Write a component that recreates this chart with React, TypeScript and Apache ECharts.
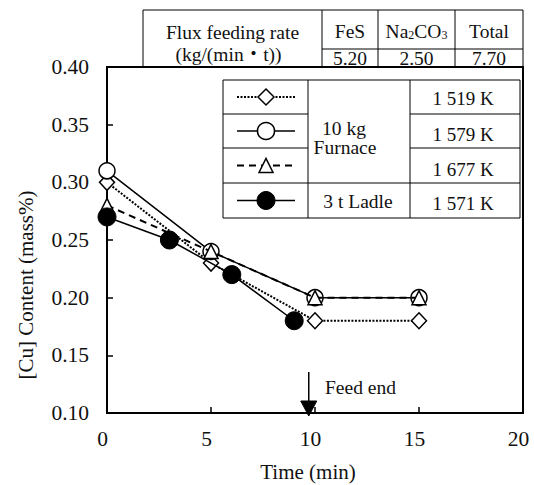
import React, { useEffect, useRef } from "react";
import * as echarts from "echarts";

// ---- data ----
const furnace1519 = [[0, 0.30], [5, 0.23], [10, 0.18], [15, 0.18]];
const furnace1579 = [[0, 0.31], [5, 0.24], [10, 0.20], [15, 0.20]];
const furnace1677 = [[0, 0.28], [5, 0.24], [10, 0.20], [15, 0.20]];
const ladle1571 = [[0, 0.27], [3, 0.25], [6, 0.22], [9, 0.18]];
const legendTemps = ["1 519 K", "1 579 K", "1 677 K", "1 571 K"];
const fluxValues = ["5.20", "2.50", "7.70"];
const xMin = 0, xMax = 20, xInterval = 5;
const yMin = 0.10, yMax = 0.40, yInterval = 0.05;
const feedEndTime = 9.7;

const F = "Liberation Serif, Times New Roman, Noto Sans CJK JP, serif";
const GL = 107, GR = 11, GT = 67, GB = 72;
const W = 534, H = 485;
const GW = W - GL - GR;
const px = (t: number) => GL + ((t - xMin) / (xMax - xMin)) * GW;

const ln = (x1: number, y1: number, x2: number, y2: number, w = 1, dash?: number[]) => ({
  type: "line",
  silent: true,
  shape: { x1, y1, x2, y2 },
  style: { stroke: "#000", lineWidth: w, lineDash: dash },
  z: 100,
});
const txt = (x: number, y: number, text: string, size = 19, align = "center", extra: any = {}) => ({
  type: "text",
  silent: true,
  x,
  y,
  style: { text, fill: "#111", fontFamily: F, fontSize: size, align, verticalAlign: "middle", ...extra },
  z: 101,
});

export default function App() {
  const ref = useRef<HTMLDivElement>(null);
  useEffect(() => {
    if (!ref.current) return;
    const chart = echarts.init(ref.current, null, { renderer: "svg" });

    // top table
    const tL = 143, c1 = 322, c2 = 378, c3 = 455, tR = 523, tT = 10, tM = 49, tB = GT;
    // legend table
    const lL = 223, lc1 = 308, lc2 = 410, lR = 520;
    const rows = [80, 114, 148, 183, 218];
    const rc = (i: number) => (rows[i] + rows[i + 1]) / 2;
    const sx1 = 237, sx2 = 295, sxc = 266;

    const arrowX = px(feedEndTime);
    const graphic: any[] = [
      // top table
      ln(tL, tT, tR, tT), ln(tL, tT, tL, tB), ln(c1, tT, c1, tB), ln(c2, tT, c2, tB), ln(c3, tT, c3, tB), ln(tR, tT, tR, tB),
      ln(c1, tM, tR, tM),
      txt((tL + c1) / 2, 32, "Flux feeding rate", 19.5),
      txt((tL + c1) / 2 - 4, 54, "(kg/(min・t))", 19.5),
      txt((c1 + c2) / 2, 31, "FeS", 19.5),
      {
        type: "text", silent: true, x: (c2 + c3) / 2, y: 31, z: 101,
        style: {
          text: "Na{s|2}CO{s|3}", fill: "#111", fontFamily: F, fontSize: 19.5, align: "center", verticalAlign: "middle",
          rich: { s: { fontSize: 12, fontFamily: F, verticalAlign: "bottom", fill: "#111" } },
        },
      },
      txt((c3 + tR) / 2, 31, "Total", 19.5),
      txt((c1 + c2) / 2, 58, fluxValues[0], 19.5),
      txt((c2 + c3) / 2, 58, fluxValues[1], 19.5),
      txt((c3 + tR) / 2, 58, fluxValues[2], 19.5),

      // legend table
      { type: "rect", silent: true, shape: { x: lL, y: rows[0], width: lR - lL, height: rows[4] - rows[0] }, style: { fill: "#fff", stroke: "#000", lineWidth: 1 }, z: 99 },
      ln(lc1, rows[0], lc1, rows[4]), ln(lc2, rows[0], lc2, rows[4]),
      ln(lL, rows[1], lc1, rows[1]), ln(lL, rows[2], lc1, rows[2]), ln(lL, rows[3], lR, rows[3]),
      ln(lc2, rows[1], lR, rows[1]), ln(lc2, rows[2], lR, rows[2]),
      txt(344, 128, "10 kg", 19.5),
      txt(345, 147, "Furnace", 19.5),
      txt(358, 201, "3 t Ladle", 19.5),
      txt(463, 98, legendTemps[0], 19),
      txt(463, 134, legendTemps[1], 19),
      txt(463, 169, legendTemps[2], 19),
      txt(463, 203, legendTemps[3], 19),
      // legend symbols
      ln(sx1, rc(0), sx2, rc(0), 2, [2, 1.5]),
      { type: "polygon", silent: true, z: 102, shape: { points: [[sxc - 8, rc(0)], [sxc, rc(0) - 8], [sxc + 8, rc(0)], [sxc, rc(0) + 8]] }, style: { fill: "#fff", stroke: "#000", lineWidth: 1.5 } },
      ln(sx1, rc(1), sx2, rc(1), 1.5),
      { type: "circle", silent: true, z: 102, shape: { cx: sxc, cy: rc(1), r: 8.5 }, style: { fill: "#fff", stroke: "#000", lineWidth: 1.5 } },
      ln(sx1, rc(2), sx2, rc(2), 2, [7, 5]),
      { type: "polygon", silent: true, z: 102, shape: { points: [[sxc - 7, rc(2) + 7], [sxc, rc(2) - 7], [sxc + 7, rc(2) + 7]] }, style: { fill: "#fff", stroke: "#000", lineWidth: 1.5 } },
      ln(sx1, rc(3), sx2, rc(3), 1.5),
      { type: "circle", silent: true, z: 102, shape: { cx: sxc, cy: rc(3), r: 9 }, style: { fill: "#000", stroke: "#000", lineWidth: 1 } },

      // axis titles
      { ...txt(26, 285, "[Cu] Content (mass%)", 21), rotation: Math.PI / 2 },
      txt(308, 472, "Time (min)", 21),

      // feed end arrow
      ln(arrowX, 372, arrowX, 402, 1.5),
      { type: "polygon", silent: true, z: 102, shape: { points: [[arrowX - 8, 401], [arrowX + 8, 401], [arrowX, 416]] }, style: { fill: "#000", stroke: "#000", lineWidth: 1 } },
      txt(325, 387, "Feed end", 19.5, "left"),
    ];

    const hollow = { color: "#fff", borderColor: "#000", borderWidth: 1.5 };
    chart.setOption({
      animation: false,
      backgroundColor: "#fff",
      grid: { left: GL, right: GR, top: GT, bottom: GB, show: true, borderColor: "#000", borderWidth: 2, backgroundColor: "transparent" },
      xAxis: {
        type: "value", min: xMin, max: xMax, interval: xInterval,
        axisLine: { show: true, lineStyle: { color: "#000", width: 2 } },
        axisTick: { show: true, inside: true, length: 6, lineStyle: { color: "#000", width: 1.5 } },
        splitLine: { show: false },
        axisLabel: { color: "#111", fontFamily: F, fontSize: 21.5, margin: 15, padding: [0, 9, 0, 0] },
      },
      yAxis: {
        type: "value", min: yMin, max: yMax, interval: yInterval,
        axisLine: { show: true, lineStyle: { color: "#000", width: 2 } },
        axisTick: { show: true, inside: true, length: 6, lineStyle: { color: "#000", width: 1.5 } },
        splitLine: { show: false },
        axisLabel: { color: "#111", fontFamily: F, fontSize: 21.5, margin: 18, padding: [0, 0, 3, 0], formatter: (v: number) => v.toFixed(2) },
      },
      series: [
        {
          type: "line", name: legendTemps[0], data: furnace1519, symbol: "diamond", symbolSize: [15, 16],
          itemStyle: hollow, lineStyle: { color: "#000", width: 2, type: [2, 1.5] }, z: 3,
        },
        {
          type: "line", name: legendTemps[1], data: furnace1579, symbol: "circle", symbolSize: 16,
          itemStyle: hollow, lineStyle: { color: "#000", width: 1.5 }, z: 4,
        },
        {
          type: "line", name: legendTemps[2], data: furnace1677, symbol: "triangle", symbolSize: [14, 14],
          itemStyle: hollow, lineStyle: { color: "#000", width: 2, type: [7, 5] }, z: 5,
        },
        {
          type: "line", name: legendTemps[3], data: ladle1571, symbol: "circle", symbolSize: 18,
          itemStyle: { color: "#000", borderColor: "#000", borderWidth: 1 }, lineStyle: { color: "#000", width: 1.5 }, z: 6,
        },
      ],
      graphic,
    });
    return () => chart.dispose();
  }, []);
  return <div ref={ref} style={{ position: "fixed", left: 0, top: 0, width: W, height: H, background: "#fff" }} />;
}
